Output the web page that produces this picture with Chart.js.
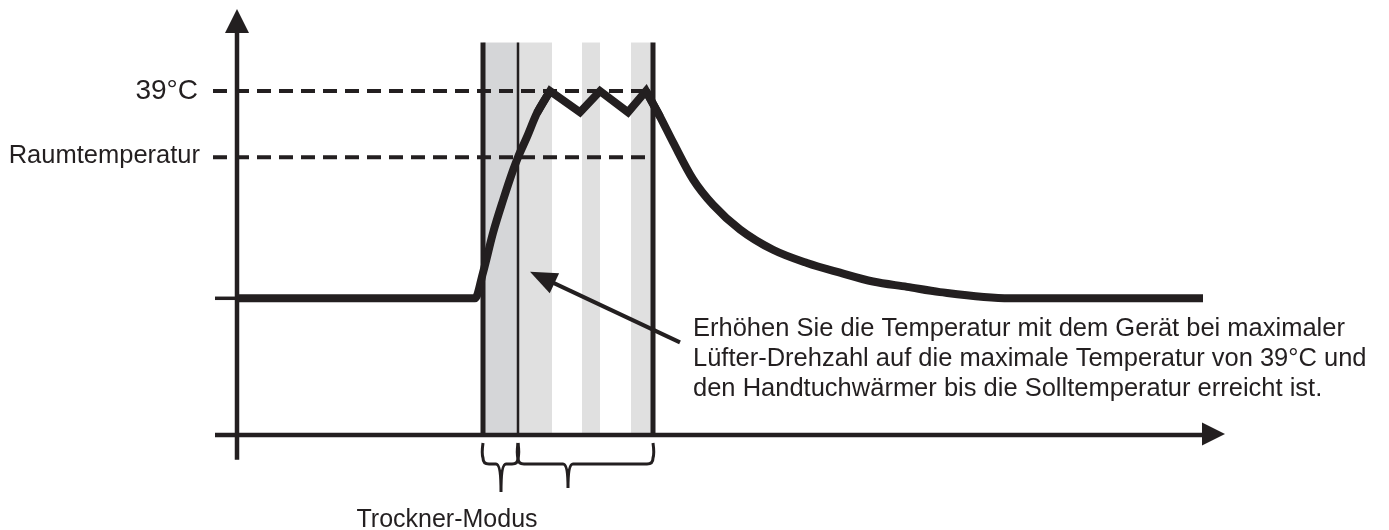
<!DOCTYPE html>
<html lang="de">
<head>
<meta charset="utf-8">
<title>Trockner-Modus</title>
<script src="https://cdn.jsdelivr.net/npm/chart.js@4/dist/chart.umd.min.js"></script>
<style>
  html, body { margin: 0; padding: 0; background: #fff; }
  canvas { display: block; }
</style>
</head>
<body>
<canvas id="tempChart" width="1389" height="530"></canvas>
<script>
// Zeit in Minuten, Temperatur in °C
const riseX = [0, 23.8, 24.6, 25.6, 26.6, 27.6, 28.1, 29.0, 30.0, 31.3];
const riseY = [15.5, 15.5, 18.4, 22.9, 26.6, 30.0, 31.5, 33.8, 36.5, 39];

const holdX = [30.0, 31.3, 34.3, 36.3, 39.1, 40.9, 42.3];
const holdY = [36.5, 39, 36.6, 39, 36.6, 39, 36.1];

const coolX = [40.9, 42.3, 43.6, 45.6, 47.6, 50.3, 53.6, 57.0, 60.3, 63.6, 67.0, 70.3, 77.3, 96.6];
const coolY = [39, 36.1, 33.2, 29.0, 26.1, 23.3, 21.0, 19.5, 18.4, 17.4, 16.8, 16.2, 15.5, 15.5];

const startLevel = 15.5;
const refLevels = [39, 31.5];
const refLabels = ['39°C', 'Raumtemperatur'];
const refFrom = -2.4;
const refTo = 41.5;

// Phasen: Trockner-Modus, Lüfter / Handtuchwärmer
const phaseLines = [24.6, 28.1, 41.6];
const bandFrom = [24.6, 28.1, 34.5, 39.4];
const bandTo = [28.1, 31.5, 36.3, 41.6];
const bandTop = 44.5;
const braceFrom = [24.6, 28.1];
const braceTo = [28.1, 41.6];
const braceTip = [26.4, 33.1];

const caption = 'Trockner-Modus';
const captionX = 21.0;
const noteLines = [
    'Erhöhen Sie die Temperatur mit dem Gerät bei maximaler',
    'Lüfter-Drehzahl auf die maximale Temperatur von 39°C und',
    'den Handtuchwärmer bis die Solltemperatur erreicht ist.'
];
const noteX = 45.6;
const noteY = 11.2;
const pointerFrom = [44.3, 10.5];
const pointerTo = [29.3, 18.5];

const ink = '#231f20';
const font = (size) => size + 'px "Liberation Sans", Arial, sans-serif';

function toPoints(xs, ys) {
    return xs.map((v, i) => ({ x: v, y: ys[i] }));
}

function arrowHead(ctx, tipX, tipY, angle, len, half) {
    ctx.save();
    ctx.translate(tipX, tipY);
    ctx.rotate(angle);
    ctx.beginPath();
    ctx.moveTo(0, 0);
    ctx.lineTo(-len, -half);
    ctx.lineTo(-len, half);
    ctx.closePath();
    ctx.fill();
    ctx.restore();
}

function brace(ctx, xa, xb, xt, top, mid, tip) {
    const r = 6;
    ctx.beginPath();
    ctx.moveTo(xa, top);
    ctx.quadraticCurveTo(xa - 1.5, (top + mid) / 2, xa, mid - r);
    ctx.quadraticCurveTo(xa, mid, xa + r, mid);
    ctx.lineTo(xt - 5, mid);
    ctx.quadraticCurveTo(xt, mid, xt, tip);
    ctx.moveTo(xt, tip);
    ctx.quadraticCurveTo(xt, mid, xt + 5, mid);
    ctx.lineTo(xb - r, mid);
    ctx.quadraticCurveTo(xb, mid, xb, mid - r);
    ctx.quadraticCurveTo(xb + 1.5, (top + mid) / 2, xb, top);
    ctx.stroke();
}

const diagramPlugin = {
    id: 'diagram',
    beforeDatasetsDraw(chart) {
        const { ctx, scales: { x, y } } = chart;
        const top = y.getPixelForValue(bandTop);
        const base = y.getPixelForValue(0);
        ctx.save();
        bandFrom.forEach((from, i) => {
            ctx.fillStyle = i === 0 ? '#d5d6d8' : '#e0e0e0';
            const l = x.getPixelForValue(from);
            const r = x.getPixelForValue(bandTo[i]);
            ctx.fillRect(l, top, r - l, base - top);
        });
        ctx.strokeStyle = ink;
        const widths = [5, 2.5, 5];
        phaseLines.forEach((v, i) => {
            const px = x.getPixelForValue(v);
            ctx.lineWidth = widths[i];
            ctx.beginPath();
            ctx.moveTo(px, top);
            ctx.lineTo(px, base);
            ctx.stroke();
        });
        ctx.restore();
    },
    afterDatasetsDraw(chart) {
        const { ctx, chartArea, scales: { x, y } } = chart;
        const x0 = x.getPixelForValue(0);
        const y0 = y.getPixelForValue(0);
        ctx.save();
        ctx.strokeStyle = ink;
        ctx.fillStyle = ink;

        // Achsen mit Pfeilspitzen
        ctx.lineWidth = 4.5;
        ctx.beginPath();
        ctx.moveTo(x.getPixelForValue(-2.2), y0);
        ctx.lineTo(chartArea.right - 20, y0);
        ctx.moveTo(x0, y.getPixelForValue(-2.8));
        ctx.lineTo(x0, chartArea.top + 20);
        ctx.stroke();
        arrowHead(ctx, chartArea.right, y0 - 1, 0, 23, 11.5);
        arrowHead(ctx, x0, chartArea.top, -Math.PI / 2, 24, 12);

        // Marke für die Ausgangstemperatur
        ctx.lineWidth = 3.5;
        ctx.beginPath();
        ctx.moveTo(x.getPixelForValue(-2.2), y.getPixelForValue(startLevel));
        ctx.lineTo(x0, y.getPixelForValue(startLevel));
        ctx.stroke();

        // Beschriftung der Bezugslinien
        ctx.textAlign = 'right';
        ctx.textBaseline = 'alphabetic';
        refLevels.forEach((v, i) => {
            const py = y.getPixelForValue(v);
            ctx.font = font(i === 0 ? 28 : 25.5);
            ctx.fillText(refLabels[i], x0 - (i === 0 ? 39 : 37), py + (i === 0 ? 8 : 6));
        });

        // Klammern unter der Zeitachse
        ctx.lineWidth = 3;
        braceFrom.forEach((from, i) => {
            brace(ctx, x.getPixelForValue(from), x.getPixelForValue(braceTo[i]),
                x.getPixelForValue(braceTip[i]), y0 + 8, y0 + 29, y0 + (i === 0 ? 57 : 53));
        });
        ctx.textAlign = 'center';
        ctx.font = font(25);
        ctx.fillText(caption, x.getPixelForValue(captionX), y0 + 92);

        // Hinweistext mit Pfeil
        const tx = x.getPixelForValue(pointerFrom[0]);
        const ty = y.getPixelForValue(pointerFrom[1]);
        const hx = x.getPixelForValue(pointerTo[0]);
        const hy = y.getPixelForValue(pointerTo[1]);
        const angle = Math.atan2(hy - ty, hx - tx);
        ctx.lineWidth = 4;
        ctx.beginPath();
        ctx.moveTo(tx, ty);
        ctx.lineTo(hx - Math.cos(angle) * 20, hy - Math.sin(angle) * 20);
        ctx.stroke();
        arrowHead(ctx, hx, hy, angle, 27, 11);

        ctx.textAlign = 'left';
        ctx.font = font(25.5);
        noteLines.forEach((line, i) => {
            ctx.fillText(line, x.getPixelForValue(noteX), y.getPixelForValue(noteY) + i * 30);
        });
        ctx.restore();
    }
};

const curveStyle = {
    borderColor: ink,
    borderWidth: 8,
    pointRadius: 0,
    fill: false,
    clip: false
};
const dashStyle = {
    borderColor: ink,
    borderWidth: 4,
    borderDash: [14, 8],
    pointRadius: 0,
    fill: false,
    clip: false
};

new Chart(document.getElementById('tempChart'), {
    type: 'line',
    data: {
        datasets: [
            { label: 'Aufheizen', data: toPoints(riseX, riseY), cubicInterpolationMode: 'monotone', ...curveStyle },
            { label: 'Halten', data: toPoints(holdX, holdY), tension: 0, borderJoinStyle: 'miter', ...curveStyle },
            { label: 'Abkühlen', data: toPoints(coolX, coolY), cubicInterpolationMode: 'monotone', ...curveStyle },
            ...refLevels.map((v, i) => ({
                label: refLabels[i],
                data: [{ x: refFrom, y: v }, { x: refTo, y: v }],
                ...dashStyle
            }))
        ]
    },
    options: {
        responsive: false,
        animation: false,
        devicePixelRatio: 1,
        layout: { padding: { left: 237, right: 164, top: 9, bottom: 95 } },
        scales: {
            x: { type: 'linear', min: 0, max: 98.8, display: false },
            y: { type: 'linear', min: 0, max: 48.3, display: false }
        },
        plugins: {
            legend: { display: false },
            tooltip: { enabled: false }
        }
    },
    plugins: [diagramPlugin]
});
</script>
</body>
</html>
